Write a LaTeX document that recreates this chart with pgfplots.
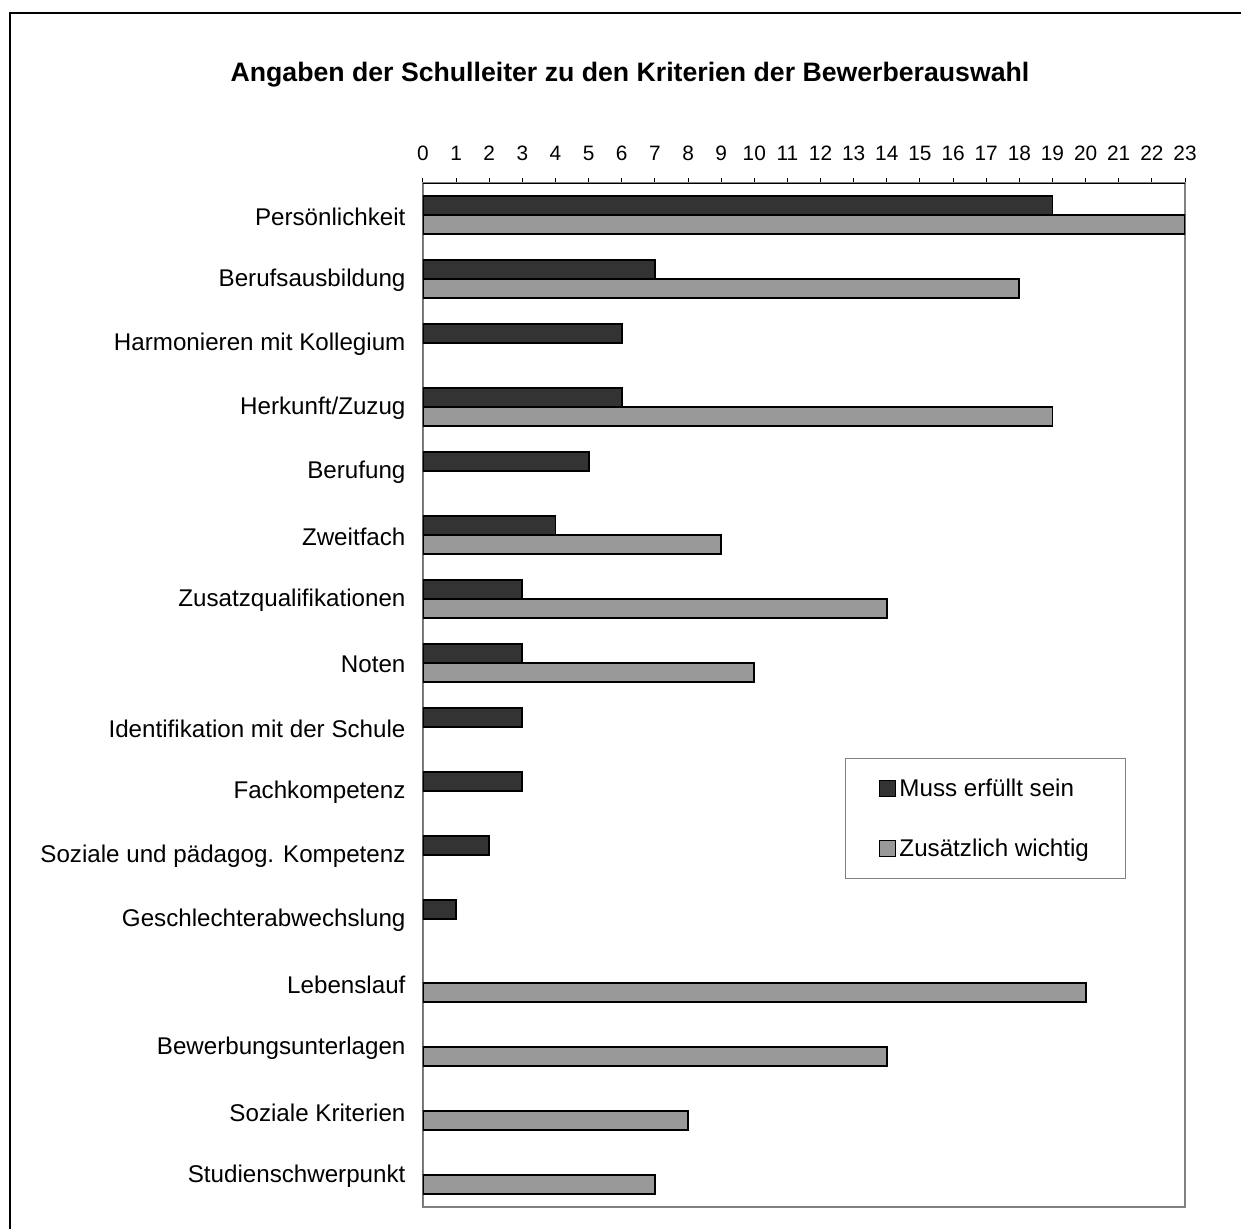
\documentclass[border=0pt]{standalone}
\usepackage{fontspec}
\setmainfont{Liberation Sans}
\usepackage{pgfplots}
\pgfplotsset{compat=1.18}
\definecolor{muss}{HTML}{333333}
\definecolor{zusatz}{HTML}{999999}
\definecolor{frame}{HTML}{808080}

\begin{document}
\begin{tikzpicture}
\useasboundingbox (0,0) rectangle (744.6pt,-736.8pt);
% outer frame (top and left edge)
\draw[line width=1.2pt] (6pt,-740pt) -- (6pt,-7.8pt) -- (748pt,-7.8pt);
% title
\node[font=\fontsize{16}{19}\selectfont\bfseries] at (378pt,-45pt)
  {Angaben der Schulleiter zu den Kriterien der Bewerberauswahl};

\begin{axis}[
  at={(253.8pt,-724.2pt)}, anchor=south west,
  scale only axis, width=457.2pt, height=614.4pt,
  xbar, bar width=11.2pt,
  xmin=0, xmax=23, ymin=-0.5, ymax=15.5,
  y dir=reverse,
  xtick={0,...,23},
  xtick pos=right, xticklabel pos=right,
  ytick pos=left,
  ytick={0,...,15},
  yticklabels={Persönlichkeit,Berufsausbildung,Harmonieren mit Kollegium,Herkunft/Zuzug,Berufung,Zweitfach,Zusatzqualifikationen,Noten,Identifikation mit der Schule,Fachkompetenz,Soziale und pädagog. Kompetenz,Geschlechterabwechslung,Lebenslauf,Bewerbungsunterlagen,Soziale Kriterien,Studienschwerpunkt},
  minor ytick={-0.5,0.5,...,15.5},
  tick align=outside,
  major tick length=3pt,
  minor tick length=4.2pt,
  ytick style={draw=none},
  minor tick style={draw=black, line width=0.6pt},
  xtick style={draw=black, line width=0.6pt},
  tick label style={font=\fontsize{14.5}{17}\selectfont},
  xticklabel style={font=\fontsize{12.5}{15}\selectfont, yshift=7pt},
  /pgf/number format/assume math mode=true,
  yticklabel style={xshift=-4pt, yshift=-1pt},
  axis line style={draw=frame, line width=1pt},
  legend style={at={(0.554,0.4385)}, anchor=north west, draw=frame,
    line width=0.6pt,
    font=\fontsize{14.5}{17}\selectfont, inner xsep=20pt, inner ysep=10pt,
    row sep=20pt},
  legend cell align=left,
  legend image code/.code={\draw[#1, line width=0.8pt] (2pt,-4.8pt) rectangle (11.5pt,4.8pt);},
]
% Muss erfüllt sein
\addplot[fill=muss, draw=black, line width=1.1pt, bar shift=5.6pt] coordinates {
  (19,0) (7,1) (6,2) (6,3) (5,4) (4,5) (3,6) (3,7) (3,8) (3,9) (2,10) (1,11)};
% Zusätzlich wichtig
\addplot[fill=zusatz, draw=black, line width=1.1pt, bar shift=-5.6pt] coordinates {
  (23,0) (18,1) (19,3) (9,5) (14,6) (10,7) (20,12) (14,13) (8,14) (7,15)};
\legend{Muss erfüllt sein, Zusätzlich wichtig}
% axes drawn in black: category axis (left) and value axis (top)
\draw[black, line width=0.6pt] (rel axis cs:0,0) -- (rel axis cs:0,1);
\draw[black, line width=0.6pt] (axis description cs:0,1) -- (axis description cs:1,1);
\end{axis}
\end{tikzpicture}
\end{document}
